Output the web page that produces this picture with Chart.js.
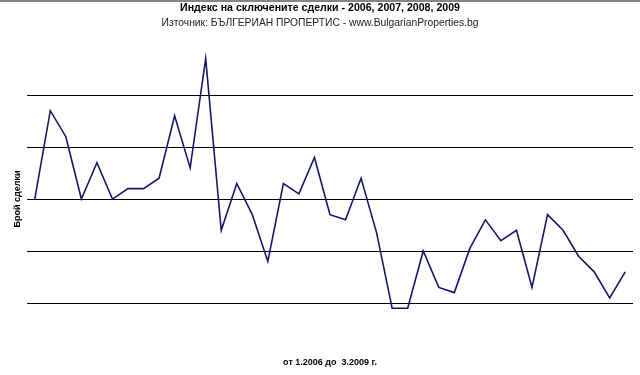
<!DOCTYPE html>
<html>
<head>
<meta charset="utf-8">
<script src="https://cdn.jsdelivr.net/npm/chart.js@4/dist/chart.umd.min.js"></script>
<style>
  html, body { margin: 0; padding: 0; background: #fff; }
  canvas { display: block; }
</style>
</head>
<body>
<canvas id="dealsChart" width="640" height="375"></canvas>
<script>
// months, 1.2006 - 3.2009
const months = [
    '1.2006', '2.2006', '3.2006', '4.2006', '5.2006', '6.2006', '7.2006', '8.2006', '9.2006', '10.2006', '11.2006', '12.2006',
    '1.2007', '2.2007', '3.2007', '4.2007', '5.2007', '6.2007', '7.2007', '8.2007', '9.2007', '10.2007', '11.2007', '12.2007',
    '1.2008', '2.2008', '3.2008', '4.2008', '5.2008', '6.2008', '7.2008', '8.2008', '9.2008', '10.2008', '11.2008', '12.2008',
    '1.2009', '2.2009', '3.2009'
];

// index of closed deals
const dealsIndex = [
    60, 94, 84, 60, 74, 60, 64, 64, 68, 92, 72, 114,
    48, 66, 54, 36, 66, 62, 76, 54, 52, 68, 47, 18,
    18, 40, 26, 24, 41, 52, 44, 48, 26, 54, 48, 38,
    32, 22, 32
];

const yTicks = [0, 20, 40, 60, 80, 100, 120];

const titleText = 'Индекс на сключените сделки - 2006, 2007, 2008, 2009';
const subtitleText = 'Източник: БЪЛГЕРИАН ПРОПЕРТИС - www.BulgarianProperties.bg';
const yAxisText = 'Брой сделки';
const xAxisText = 'от 1.2006 до  3.2009 г.';

const fontFamily = "Arial, 'Liberation Sans', sans-serif";

// grey strip on top + axis captions
const extrasPlugin = {
    id: 'extras',
    beforeDraw(chart) {
        const ctx = chart.ctx;
        ctx.save();
        ctx.fillStyle = '#fff';
        ctx.fillRect(0, 0, chart.width, chart.height);
        ctx.fillStyle = '#858585';
        ctx.fillRect(0, 0, chart.width, 2);
        ctx.restore();
    },
    afterDraw(chart) {
        const ctx = chart.ctx;
        ctx.save();
        ctx.fillStyle = '#000';
        ctx.font = 'bold 9px ' + fontFamily;
        ctx.textAlign = 'center';
        ctx.textBaseline = 'middle';
        ctx.fillText(xAxisText, 330, 363);

        ctx.translate(18, 199);
        ctx.rotate(-Math.PI / 2);
        ctx.fillText(yAxisText, 0, 0);
        ctx.restore();
    }
};

const ctx = document.getElementById('dealsChart').getContext('2d');

new Chart(ctx, {
    type: 'line',
    data: {
        labels: months,
        datasets: [{
            data: dealsIndex,
            borderColor: '#16166a',
            borderWidth: 1.6,
            pointRadius: 0,
            tension: 0,
            fill: false
        }]
    },
    options: {
        responsive: false,
        animation: false,
        layout: {
            padding: { left: 7, right: 7, top: 0, bottom: 20 }
        },
        plugins: {
            legend: { display: false },
            tooltip: { enabled: false },
            title: {
                display: true,
                text: titleText,
                color: '#000',
                font: { family: fontFamily, size: 10.6, weight: 'bold', lineHeight: 1.25 },
                padding: { top: 1, bottom: 2 }
            },
            subtitle: {
                display: true,
                text: subtitleText,
                color: '#222',
                font: { family: fontFamily, size: 10.3, weight: 'normal', lineHeight: 1.25 },
                padding: { top: 0, bottom: 14 }
            }
        },
        scales: {
            x: {
                type: 'category',
                offset: true,
                grid: { display: false, drawTicks: false },
                border: { display: false },
                ticks: { display: false }
            },
            y: {
                min: yTicks[0],
                max: yTicks[yTicks.length - 1],
                afterBuildTicks(scale) {
                    scale.ticks = yTicks.map(v => ({ value: v }));
                },
                afterFit(scale) {
                    scale.width = 20; // room for the rotated caption
                },
                grid: {
                    drawTicks: false,
                    lineWidth: 1,
                    color: c => (c.tick && (c.tick.value === yTicks[0] || c.tick.value === yTicks[yTicks.length - 1])) ? 'rgba(0,0,0,0)' : '#000'
                },
                border: { display: false },
                ticks: { display: false }
            }
        }
    },
    plugins: [extrasPlugin]
});
</script>
</body>
</html>
